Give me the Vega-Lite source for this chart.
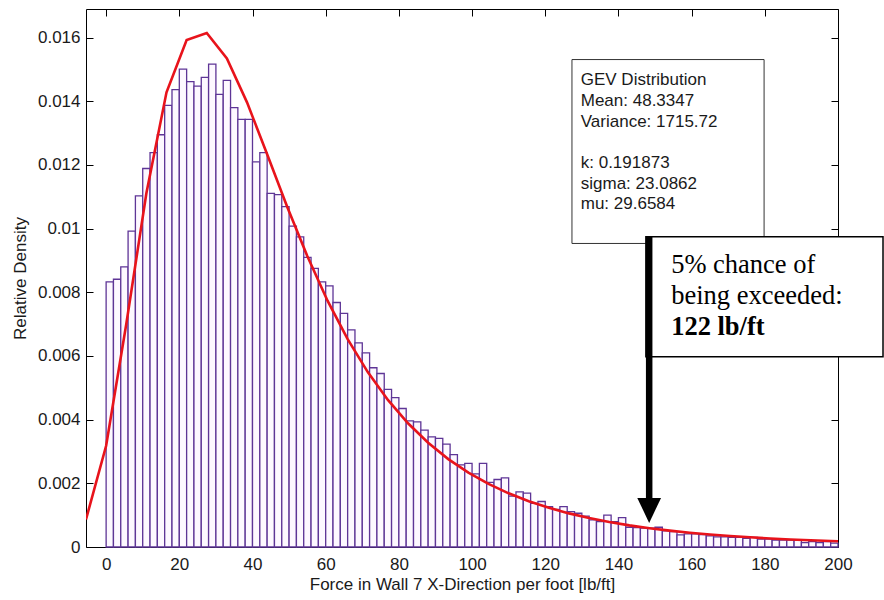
{
  "$schema": "https://vega.github.io/schema/vega-lite/v6.json",
  "width": 752,
  "height": 538,
  "autosize": {"type": "none"},
  "padding": {"left": 86, "top": 9, "right": 46, "bottom": 53},
  "background": "white",
  "config": {
    "view": {"stroke": null},
    "axis": {
      "grid": false,
      "domainColor": "#000000",
      "domainWidth": 1,
      "tickColor": "#000000",
      "tickWidth": 1,
      "tickSize": -7,
      "labelFont": "Liberation Sans",
      "titleFont": "Liberation Sans",
      "labelFontSize": 17,
      "titleFontSize": 17,
      "titleFontWeight": "normal",
      "labelColor": "#1a1a1a",
      "titleColor": "#1a1a1a",
      "labelOverlap": false,
      "labelFlush": false
    }
  },
  "datasets": {
    "hist": [
      {"lo": 0, "hi": 2, "density": 0.00833}, {"lo": 2, "hi": 4, "density": 0.00841},
      {"lo": 4, "hi": 6, "density": 0.00880}, {"lo": 6, "hi": 8, "density": 0.00992},
      {"lo": 8, "hi": 10, "density": 0.01103}, {"lo": 10, "hi": 12, "density": 0.01189},
      {"lo": 12, "hi": 14, "density": 0.01239}, {"lo": 14, "hi": 16, "density": 0.01295},
      {"lo": 16, "hi": 18, "density": 0.01387}, {"lo": 18, "hi": 20, "density": 0.01437},
      {"lo": 20, "hi": 22, "density": 0.01501}, {"lo": 22, "hi": 24, "density": 0.01462},
      {"lo": 24, "hi": 26, "density": 0.01448}, {"lo": 26, "hi": 28, "density": 0.01475},
      {"lo": 28, "hi": 30, "density": 0.01517}, {"lo": 30, "hi": 32, "density": 0.01422},
      {"lo": 32, "hi": 34, "density": 0.01466}, {"lo": 34, "hi": 36, "density": 0.01380},
      {"lo": 36, "hi": 38, "density": 0.01343}, {"lo": 38, "hi": 40, "density": 0.01343},
      {"lo": 40, "hi": 42, "density": 0.01210}, {"lo": 42, "hi": 44, "density": 0.01239},
      {"lo": 44, "hi": 46, "density": 0.01111}, {"lo": 46, "hi": 48, "density": 0.01107},
      {"lo": 48, "hi": 50, "density": 0.01069}, {"lo": 50, "hi": 52, "density": 0.01008},
      {"lo": 52, "hi": 54, "density": 0.00974}, {"lo": 54, "hi": 56, "density": 0.00910},
      {"lo": 56, "hi": 58, "density": 0.00875}, {"lo": 58, "hi": 60, "density": 0.00833},
      {"lo": 60, "hi": 62, "density": 0.00820}, {"lo": 62, "hi": 64, "density": 0.00768},
      {"lo": 64, "hi": 66, "density": 0.00734}, {"lo": 66, "hi": 68, "density": 0.00682},
      {"lo": 68, "hi": 70, "density": 0.00641}, {"lo": 70, "hi": 72, "density": 0.00610},
      {"lo": 72, "hi": 74, "density": 0.00563}, {"lo": 74, "hi": 76, "density": 0.00545},
      {"lo": 76, "hi": 78, "density": 0.00495}, {"lo": 78, "hi": 80, "density": 0.00469},
      {"lo": 80, "hi": 82, "density": 0.00435}, {"lo": 82, "hi": 84, "density": 0.00396},
      {"lo": 84, "hi": 86, "density": 0.00393}, {"lo": 86, "hi": 88, "density": 0.00367},
      {"lo": 88, "hi": 90, "density": 0.00346}, {"lo": 90, "hi": 92, "density": 0.00341},
      {"lo": 92, "hi": 94, "density": 0.00323}, {"lo": 94, "hi": 96, "density": 0.00290},
      {"lo": 96, "hi": 98, "density": 0.00258}, {"lo": 98, "hi": 100, "density": 0.00263},
      {"lo": 100, "hi": 102, "density": 0.00230}, {"lo": 102, "hi": 104, "density": 0.00263},
      {"lo": 104, "hi": 106, "density": 0.00203}, {"lo": 106, "hi": 108, "density": 0.00212},
      {"lo": 108, "hi": 110, "density": 0.00217}, {"lo": 110, "hi": 112, "density": 0.00160},
      {"lo": 112, "hi": 114, "density": 0.00173}, {"lo": 114, "hi": 116, "density": 0.00169},
      {"lo": 116, "hi": 118, "density": 0.00137}, {"lo": 118, "hi": 120, "density": 0.00143},
      {"lo": 120, "hi": 122, "density": 0.00127}, {"lo": 122, "hi": 124, "density": 0.00118},
      {"lo": 124, "hi": 126, "density": 0.00127}, {"lo": 126, "hi": 128, "density": 0.00111},
      {"lo": 128, "hi": 130, "density": 0.00106}, {"lo": 130, "hi": 132, "density": 0.00097},
      {"lo": 132, "hi": 134, "density": 0.00085}, {"lo": 134, "hi": 136, "density": 0.00080},
      {"lo": 136, "hi": 138, "density": 0.00100}, {"lo": 138, "hi": 140, "density": 0.00080},
      {"lo": 140, "hi": 142, "density": 0.00092}, {"lo": 142, "hi": 144, "density": 0.00062},
      {"lo": 144, "hi": 146, "density": 0.00061}, {"lo": 146, "hi": 148, "density": 0.00059},
      {"lo": 148, "hi": 150, "density": 0.00059}, {"lo": 150, "hi": 152, "density": 0.00062},
      {"lo": 152, "hi": 154, "density": 0.00051}, {"lo": 154, "hi": 156, "density": 0.00048},
      {"lo": 156, "hi": 158, "density": 0.00038}, {"lo": 158, "hi": 160, "density": 0.00041},
      {"lo": 160, "hi": 162, "density": 0.00041}, {"lo": 162, "hi": 164, "density": 0.00039},
      {"lo": 164, "hi": 166, "density": 0.00035}, {"lo": 166, "hi": 168, "density": 0.00032},
      {"lo": 168, "hi": 170, "density": 0.00032}, {"lo": 170, "hi": 172, "density": 0.00030},
      {"lo": 172, "hi": 174, "density": 0.00030}, {"lo": 174, "hi": 176, "density": 0.00027},
      {"lo": 176, "hi": 178, "density": 0.00030}, {"lo": 178, "hi": 180, "density": 0.00025},
      {"lo": 180, "hi": 182, "density": 0.00025}, {"lo": 182, "hi": 184, "density": 0.00022},
      {"lo": 184, "hi": 186, "density": 0.00022}, {"lo": 186, "hi": 188, "density": 0.00022},
      {"lo": 188, "hi": 190, "density": 0.00022}, {"lo": 190, "hi": 192, "density": 0.00014},
      {"lo": 192, "hi": 194, "density": 0.00017}, {"lo": 194, "hi": 196, "density": 0.00014},
      {"lo": 196, "hi": 198, "density": 0.00017}, {"lo": 198, "hi": 200, "density": 0.00012}
    ],
    "gevFit": [
      {"force": -5.5, "density": 0.000866}, {"force": 0, "density": 0.003180},
      {"force": 5.5, "density": 0.006995}, {"force": 11, "density": 0.011111},
      {"force": 16.5, "density": 0.014282}, {"force": 22, "density": 0.015926},
      {"force": 27.5, "density": 0.016147}, {"force": 33, "density": 0.015350},
      {"force": 38.5, "density": 0.013967}, {"force": 44, "density": 0.012338},
      {"force": 49.5, "density": 0.010683}, {"force": 55, "density": 0.009130},
      {"force": 60.5, "density": 0.007738}, {"force": 66, "density": 0.006528},
      {"force": 71.5, "density": 0.005493}, {"force": 77, "density": 0.004619},
      {"force": 82.5, "density": 0.003886}, {"force": 88, "density": 0.003273},
      {"force": 93.5, "density": 0.002761}, {"force": 99, "density": 0.002336},
      {"force": 104.5, "density": 0.001982}, {"force": 110, "density": 0.001686},
      {"force": 115.5, "density": 0.001438}, {"force": 121, "density": 0.001231},
      {"force": 126.5, "density": 0.001056}, {"force": 132, "density": 0.000909},
      {"force": 137.5, "density": 0.000785}, {"force": 143, "density": 0.000680},
      {"force": 148.5, "density": 0.000591}, {"force": 154, "density": 0.000514},
      {"force": 159.5, "density": 0.000449}, {"force": 165, "density": 0.000393},
      {"force": 170.5, "density": 0.000345}, {"force": 176, "density": 0.000304},
      {"force": 181.5, "density": 0.000268}, {"force": 187, "density": 0.000237},
      {"force": 192.5, "density": 0.000210}, {"force": 198, "density": 0.000187},
      {"force": 203.5, "density": 0.000166}
    ],
    "statsBox": [{"x0": 127.3, "x1": 179.8, "y0": 0.009535, "y1": 0.015312}],
    "statsText": [
      {"x": 129.7, "y": 0.014505, "label": "GEV Distribution"},
      {"x": 129.7, "y": 0.013856, "label": "Mean: 48.3347"},
      {"x": 129.7, "y": 0.013206, "label": "Variance: 1715.72"},
      {"x": 129.7, "y": 0.011906, "label": "k: 0.191873"},
      {"x": 129.7, "y": 0.011256, "label": "sigma: 23.0862"},
      {"x": 129.7, "y": 0.010606, "label": "mu: 29.6584"}
    ],
    "calloutBox": [{"x0": 147.5, "x1": 212.3, "y0": 0.005975, "y1": 0.009742}],
    "calloutText": [
      {"x": 154.4, "y": 0.008612, "label": "5% chance of"},
      {"x": 154.4, "y": 0.007639, "label": "being exceeded:"}
    ],
    "calloutValue": [{"x": 154.4, "y": 0.006656, "label": "122 lb/ft"}],
    "arrow": [{"force": 148.4, "top": 0.009742, "head": 0.00115}]
  },
  "layer": [
    {
      "data": {"name": "hist"},
      "mark": {"type": "rect", "fill": "#fdf8ff", "stroke": "#5e3596", "strokeWidth": 1.3},
      "encoding": {
        "x": {
          "field": "lo", "type": "quantitative",
          "scale": {"domain": [-5.5, 200], "nice": false, "zero": false},
          "axis": {
            "orient": "bottom",
            "values": [0, 20, 40, 60, 80, 100, 120, 140, 160, 180, 200],
            "labelPadding": 16,
            "title": "Force in Wall 7 X-Direction per foot [lb/ft]",
            "titlePadding": 4
          }
        },
        "x2": {"field": "hi"},
        "y": {
          "field": "density", "type": "quantitative",
          "scale": {"domain": [0, 0.0169], "nice": false, "zero": true},
          "axis": {
            "orient": "left",
            "values": [0, 0.002, 0.004, 0.006, 0.008, 0.01, 0.012, 0.014, 0.016],
            "format": "~g",
            "labelPadding": 13,
            "title": "Relative Density",
            "titlePadding": 8
          }
        },
        "y2": {"datum": 0}
      }
    },
    {
      "data": {"name": "gevFit"},
      "mark": {"type": "line", "color": "#e8131b", "strokeWidth": 2.6, "clip": true},
      "encoding": {
        "x": {
          "field": "force", "type": "quantitative",
          "scale": {"domain": [-5.5, 200], "nice": false, "zero": false},
          "axis": {"orient": "top", "values": [0, 20, 40, 60, 80, 100, 120, 140, 160, 180, 200], "labels": false, "title": null}
        },
        "y": {
          "field": "density", "type": "quantitative",
          "scale": {"domain": [0, 0.0169], "nice": false},
          "axis": {"orient": "right", "values": [0, 0.002, 0.004, 0.006, 0.008, 0.01, 0.012, 0.014, 0.016], "labels": false, "title": null}
        }
      }
    },
    {
      "data": {"name": "statsBox"},
      "mark": {"type": "rect", "fill": "white", "stroke": "#333333", "strokeWidth": 1, "clip": false},
      "encoding": {
        "x": {"field": "x0", "type": "quantitative", "axis": null},
        "x2": {"field": "x1"},
        "y": {"field": "y0", "type": "quantitative", "axis": null},
        "y2": {"field": "y1"}
      }
    },
    {
      "data": {"name": "statsText"},
      "mark": {"type": "text", "align": "left", "baseline": "alphabetic", "font": "Liberation Sans", "fontSize": 17, "color": "#1a1a1a", "clip": false},
      "encoding": {
        "x": {"field": "x", "type": "quantitative", "axis": null},
        "y": {"field": "y", "type": "quantitative", "axis": null},
        "text": {"field": "label"}
      }
    },
    {
      "data": {"name": "calloutBox"},
      "mark": {"type": "rect", "fill": "white", "stroke": "#000000", "strokeWidth": 1.5, "clip": false},
      "encoding": {
        "x": {"field": "x0", "type": "quantitative", "axis": null},
        "x2": {"field": "x1"},
        "y": {"field": "y0", "type": "quantitative", "axis": null},
        "y2": {"field": "y1"}
      }
    },
    {
      "data": {"name": "calloutText"},
      "mark": {"type": "text", "align": "left", "baseline": "alphabetic", "font": "Liberation Serif", "fontSize": 26.5, "color": "#000000", "clip": false},
      "encoding": {
        "x": {"field": "x", "type": "quantitative", "axis": null},
        "y": {"field": "y", "type": "quantitative", "axis": null},
        "text": {"field": "label"}
      }
    },
    {
      "data": {"name": "calloutValue"},
      "mark": {"type": "text", "align": "left", "baseline": "alphabetic", "font": "Liberation Serif", "fontSize": 26.5, "fontWeight": "bold", "color": "#000000", "clip": false},
      "encoding": {
        "x": {"field": "x", "type": "quantitative", "axis": null},
        "y": {"field": "y", "type": "quantitative", "axis": null},
        "text": {"field": "label"}
      }
    },
    {
      "data": {"name": "arrow"},
      "mark": {"type": "rule", "color": "#000000", "strokeWidth": 6.5, "strokeCap": "butt"},
      "encoding": {
        "x": {"field": "force", "type": "quantitative", "axis": null},
        "y": {"field": "top", "type": "quantitative", "axis": null},
        "y2": {"field": "head"}
      }
    },
    {
      "data": {"name": "arrow"},
      "mark": {"type": "point", "shape": "M-0.95,-1L0.95,-1L0,1Z", "size": 625, "filled": true, "color": "#000000", "opacity": 1},
      "encoding": {
        "x": {"field": "force", "type": "quantitative", "axis": null},
        "y": {"field": "head", "type": "quantitative", "axis": null}
      }
    }
  ],
  "resolve": {"axis": {"x": "independent", "y": "independent"}}
}
